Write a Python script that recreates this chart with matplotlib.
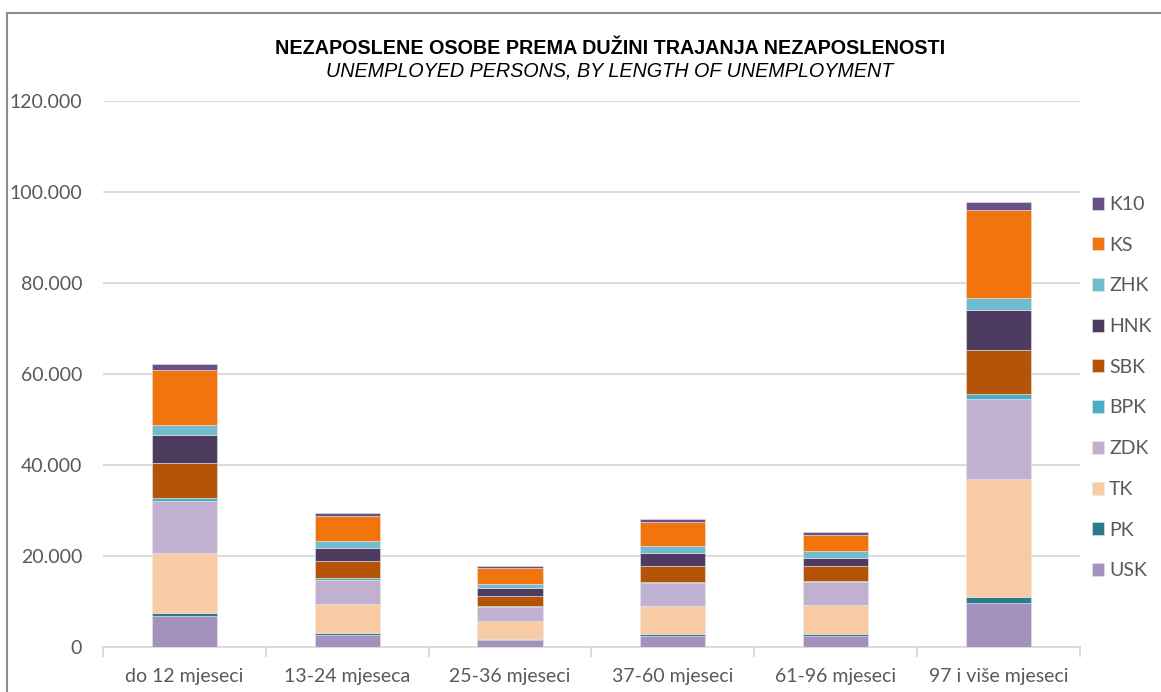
import numpy as np
import matplotlib
matplotlib.use("Agg")
import matplotlib.pyplot as plt
from matplotlib.ticker import FuncFormatter, FixedLocator
from matplotlib.patches import Rectangle

categories = ["do 12 mjeseci", "13-24 mjeseca", "25-36 mjeseci",
              "37-60 mjeseci", "61-96 mjeseci", "97 i više mjeseci"]

# stacked from the bottom up
series_names = ["USK", "PK", "TK", "ZDK", "BPK", "SBK", "HNK", "ZHK", "KS", "K10"]
USK = [6770, 2670, 1490, 2380, 2440, 9700]
PK = [730, 440, 290, 440, 315, 1250]
TK = [13100, 6380, 3780, 6070, 6515, 26020]
ZDK = [11470, 5180, 3110, 5040, 4880, 17490]
BPK = [725, 370, 200, 290, 230, 1040]
SBK = [7650, 3710, 2220, 3420, 3260, 9700]
HNK = [6020, 2960, 1780, 2960, 1910, 8760]
ZHK = [2200, 1490, 890, 1550, 1430, 2710]
KS = [12130, 5620, 3550, 5270, 3620, 19400]
K10 = [1390, 600, 380, 670, 600, 1620]

colors = ["#A591BE", "#2C7A8E", "#F9CBA4", "#C0B1D1", "#4BACC6",
          "#B55307", "#4D3B60", "#72BCD0", "#F1750C", "#6A5088"]

title = "NEZAPOSLENE OSOBE PREMA DUŽINI TRAJANJA NEZAPOSLENOSTI"
subtitle = "UNEMPLOYED PERSONS, BY LENGTH OF UNEMPLOYMENT"

plt.rcParams['font.family'] = ['Lato', 'DejaVu Sans']

fig = plt.figure(figsize=(11.61, 6.92), dpi=100)
ax = fig.add_axes([0.0887, 0.0655, 0.8415, 0.7886])

data = [USK, PK, TK, ZDK, BPK, SBK, HNK, ZHK, KS, K10]
x = np.arange(len(categories))
bottom = np.zeros(len(categories))
handles = []
for name, vals, col in zip(series_names, data, colors):
    b = ax.bar(x, vals, width=0.4, bottom=bottom, color=col, label=name,
               edgecolor='#e6e6e6', linewidth=0.4, zorder=3)
    handles.append(b)
    bottom += np.array(vals)

ax.set_xlim(-0.5, len(categories) - 0.5)
ax.set_ylim(0, 120000)
ax.yaxis.set_major_locator(FixedLocator(np.arange(0, 120001, 20000)))
ax.yaxis.set_major_formatter(FuncFormatter(lambda v, p: f"{int(v):,}".replace(",", ".")))
ax.grid(axis='y', color='#d9d9d9', linewidth=1.3, zorder=0)
for s in ['top', 'right', 'left']:
    ax.spines[s].set_visible(False)
ax.spines['bottom'].set_color('#d9d9d9')
ax.spines['bottom'].set_linewidth(1.3)
ax.tick_params(axis='y', length=0, labelsize=14, labelcolor='#595959', pad=15)
ax.set_xticks(x)
ax.set_xticklabels(categories)
ax.tick_params(axis='x', length=0, labelsize=14, labelcolor='#595959', pad=15)
# category separators below the axis
ax.set_xticks(np.arange(-0.5, len(categories)), minor=True)
ax.tick_params(axis='x', which='minor', length=7, width=1.3, color='#d9d9d9', direction='out')

leg = ax.legend(handles[::-1], series_names[::-1], loc='upper left',
                bbox_to_anchor=(0.998, 0.851), frameon=False, fontsize=14,
                handlelength=0.65, handleheight=0.65, handletextpad=0.25,
                labelspacing=1.22, borderaxespad=0.3)
for t in leg.get_texts():
    t.set_color('#595959')

fig.text(0.5254, 0.930, title, ha='center', va='center', fontsize=14.2,
         fontweight='bold', family=['Liberation Sans', 'DejaVu Sans'])
fig.text(0.5254, 0.898, subtitle, ha='center', va='center', fontsize=14.2,
         fontstyle='italic', family=['Liberation Sans', 'DejaVu Sans'])

fig.patches.append(Rectangle((7 / 1161, -0.1), 1.2, 0.1 + (692 - 13) / 692,
                             transform=fig.transFigure, fill=False,
                             edgecolor='#8c8c8c', linewidth=1.5))

fig.savefig("out.png", dpi=100)
